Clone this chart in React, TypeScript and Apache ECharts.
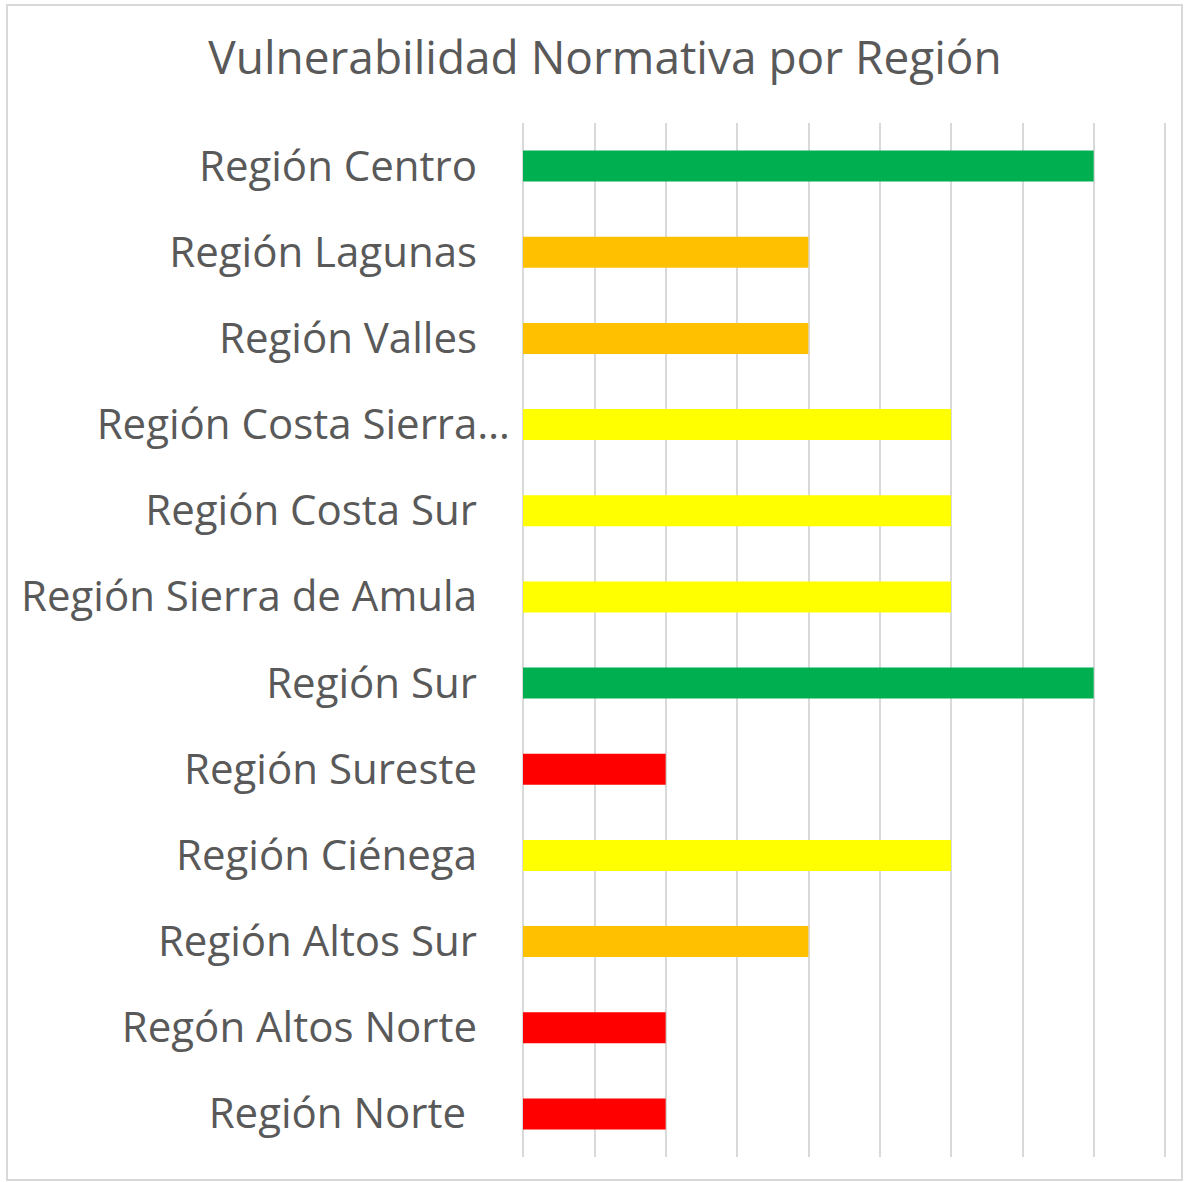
import React, { useEffect, useRef } from "react";
import * as echarts from "echarts";

const TITLE = "Vulnerabilidad Normativa por Región";
const categories = [
  "Región Centro",
  "Región Lagunas",
  "Región Valles",
  "Región Costa Sierra…",
  "Región Costa Sur",
  "Región Sierra de Amula",
  "Región Sur",
  "Región Sureste",
  "Región Ciénega",
  "Región Altos Sur",
  "Regón Altos Norte",
  "Región Norte ",
];
const values = [8, 4, 4, 6, 6, 6, 8, 2, 6, 4, 2, 2];
const barColors = [
  "#00B050",
  "#FFC000",
  "#FFC000",
  "#FFFF00",
  "#FFFF00",
  "#FFFF00",
  "#00B050",
  "#FF0000",
  "#FFFF00",
  "#FFC000",
  "#FF0000",
  "#FF0000",
];
const truncatedLabel = "Región Costa Sierra…";

export default function App() {
  const ref = useRef<HTMLDivElement>(null);
  useEffect(() => {
    if (!ref.current) return;
    const chart = echarts.init(ref.current, undefined, { renderer: "svg" });
    const font = "'Open Sans', 'Noto Sans', sans-serif";
    chart.setOption({
      animation: false,
      backgroundColor: "#ffffff",
      title: {
        text: TITLE,
        left: 600,
        textAlign: "center",
        top: 28,
        textStyle: {
          color: "#595959",
          fontSize: 46,
          fontWeight: "normal",
          fontFamily: font,
        },
      },
      graphic: [
        {
          type: "rect",
          shape: { x: 7, y: 5, width: 1175, height: 1175 },
          style: { fill: "none", stroke: "#d9d9d9", lineWidth: 2 },
          silent: true,
        },
      ],
      grid: { left: 523, right: 21, top: 123, bottom: 25, containLabel: false },
      xAxis: {
        type: "value",
        min: 0,
        max: 9,
        interval: 1,
        axisLabel: { show: false },
        axisLine: { show: false },
        axisTick: { show: false },
        splitLine: { show: true, lineStyle: { color: "#d9d9d9", width: 2 } },
      },
      yAxis: {
        type: "category",
        inverse: true,
        data: categories,
        axisLine: { show: false },
        axisTick: { show: false },
        axisLabel: {
          margin: 13,
          color: "#595959",
          fontSize: 42,
          fontFamily: font,
          formatter: (v: string) =>
            v === truncatedLabel ? "{t|" + v + "}" : "{n|" + v + "}",
          rich: {
            n: { color: "#595959", fontSize: 42, fontFamily: font, padding: [0, 33, 4, 0] },
            t: { color: "#595959", fontSize: 42, fontFamily: font, padding: [0, 0, 4, 0] },
          },
        },
      },
      series: [
        {
          type: "bar",
          data: values.map((v, i) => ({ value: v, itemStyle: { color: barColors[i] } })),
          barWidth: "36%",
        },
      ],
    });
    return () => chart.dispose();
  }, []);
  return (
    <div
      ref={ref}
      style={{ position: "absolute", left: 0, top: 0, width: 1186, height: 1182 }}
    />
  );
}
